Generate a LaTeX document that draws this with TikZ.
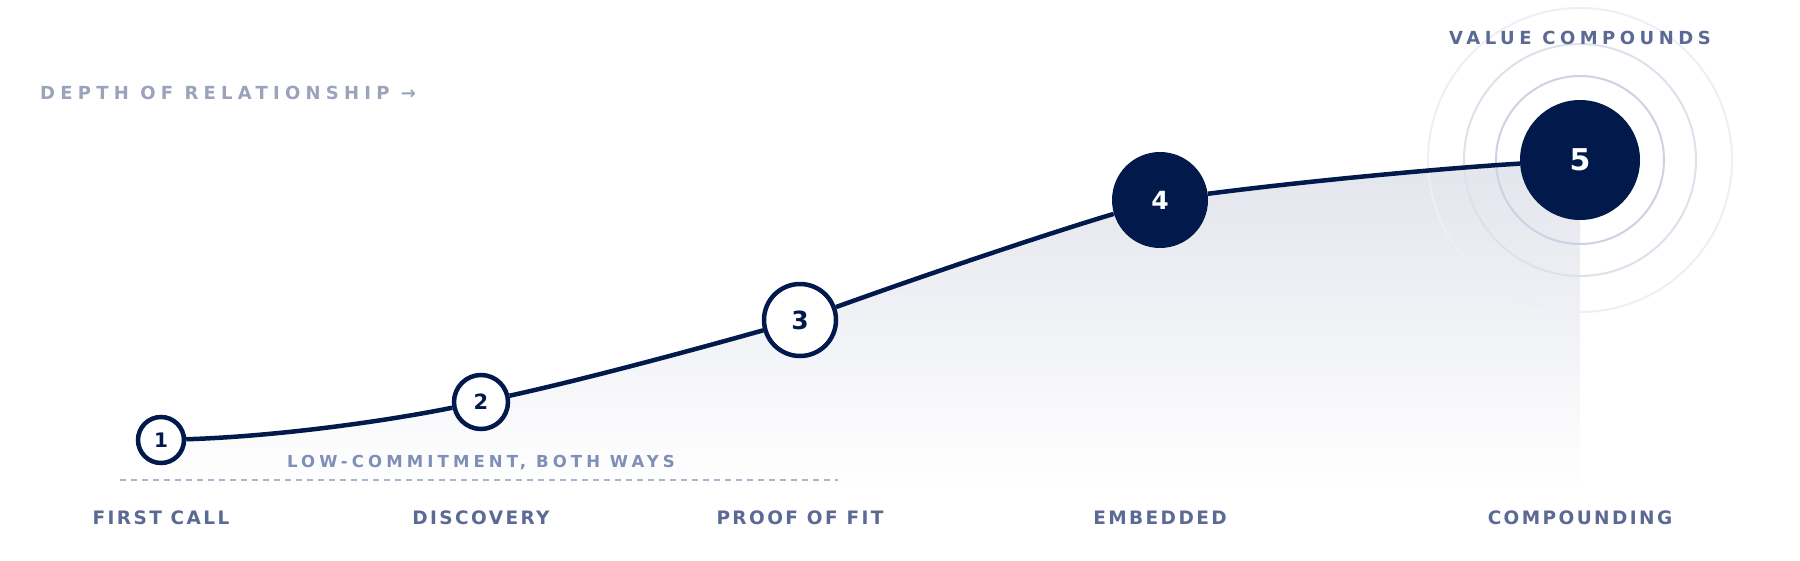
\documentclass[tikz,border=0pt]{standalone}
\usepackage{fontspec}
\setmainfont{DejaVu Sans}
\definecolor{navy}{HTML}{021A4B}
\definecolor{slate}{HTML}{5A6A95}
\definecolor{pale}{HTML}{9BA3BB}
\definecolor{midb}{HTML}{7F8FB8}
\definecolor{dashc}{HTML}{AAB4D0}
\definecolor{fillc}{HTML}{E3E5ED}
\definecolor{ringa}{HTML}{CDD2E3}
\definecolor{ringb}{HTML}{DEE1EB}
\definecolor{ringc}{HTML}{EDEFF4}
\pgfdeclareverticalshading{areashade}{100bp}{color(0bp)=(white); color(27bp)=(white); color(75bp)=(fillc); color(100bp)=(fillc)}
\begin{document}
\begin{tikzpicture}[x=1pt,y=-1pt,
  opennode/.style={circle,draw=navy,line width=4.5pt,fill=white,text=navy,inner sep=0pt},
  solidnode/.style={circle,fill=navy,text=white,inner sep=0pt},
  link/.style={draw=navy,line width=4.5pt},
  ring/.style={line width=2pt},
  stage/.style={anchor=base,text=slate,inner sep=0pt,font=\bfseries\fontsize{18.5}{18.5}\selectfont\addfontfeature{LetterSpace=13}},
  headtxt/.style={anchor=base,inner sep=0pt}
]
\useasboundingbox (0,0) rectangle (1800,560);
\coordinate (c1) at (161,440);
\coordinate (c2) at (481,402);
\coordinate (c3) at (800,320);
\coordinate (c4) at (1160,200);
\coordinate (c5) at (1580,160);
% shaded area under the curve
\shade[shading=areashade]
  (c1) .. controls (267.7,436.8) and (374.3,423.3) .. (c2)
  .. controls (587.3,378.6) and (693.7,349.8) .. (c3)
  .. controls (920,276.8) and (1040,236) .. (c4)
  .. controls (1300,181.8) and (1440,168.4) .. (c5)
  -- (1580,505) -- (161,505) -- cycle;
% rings
\draw[ring,draw=ringc] (c5) circle[radius=152];
\draw[ring,draw=ringb] (c5) circle[radius=116];
\draw[ring,draw=ringa] (c5) circle[radius=84];
% dashed baseline
\coordinate (d1) at (120,480);
\coordinate (d2) at (838,480);
\draw[dashc,line width=2pt,dash pattern=on 6pt off 5pt] (d1) -- (d2);
% nodes
\node[opennode,minimum size=46pt,font=\bfseries\fontsize{20}{20}\selectfont] (n1) at (c1) {1};
\node[opennode,minimum size=54pt,font=\bfseries\fontsize{21}{21}\selectfont] (n2) at (c2) {2};
\node[opennode,minimum size=72pt,font=\bfseries\fontsize{25}{25}\selectfont] (n3) at (c3) {3};
\node[solidnode,minimum size=96pt,font=\bfseries\fontsize{25}{25}\selectfont] (n4) at (c4) {4};
\node[solidnode,minimum size=120pt,font=\bfseries\fontsize{30}{30}\selectfont] (n5) at (c5) {5};
% connectors
\draw[link] (n1) .. controls (267.7,436.8) and (374.3,423.3) .. (n2);
\draw[link] (n2) .. controls (587.3,378.6) and (693.7,349.8) .. (n3);
\draw[link] (n3) .. controls (920,276.8) and (1040,236) .. (n4);
\draw[link] (n4) .. controls (1300,181.8) and (1440,168.4) .. (n5);
% texts
\node[headtxt,anchor=base west,text=pale,font=\bfseries\fontsize{18}{18}\selectfont\addfontfeature{LetterSpace=29}] (depth) at (40,99) {DEPTH OF RELATIONSHIP →};
\node[headtxt,text=slate,font=\bfseries\fontsize{18}{18}\selectfont\addfontfeature{LetterSpace=25}] (value) at (1580,44.5) {VALUE COMPOUNDS};
\node[headtxt,text=midb,font=\bfseries\fontsize{16.5}{16.5}\selectfont\addfontfeature{LetterSpace=25}] (low) at (481,467) {LOW-COMMITMENT, BOTH WAYS};
\node[stage] (l1) at (161,524) {FIRST CALL};
\node[stage] (l2) at (481,524) {DISCOVERY};
\node[stage] (l3) at (800,524) {PROOF OF FIT};
\node[stage] (l4) at (1160,524) {EMBEDDED};
\node[stage] (l5) at (1580,524) {COMPOUNDING};
\end{tikzpicture}
\end{document}
